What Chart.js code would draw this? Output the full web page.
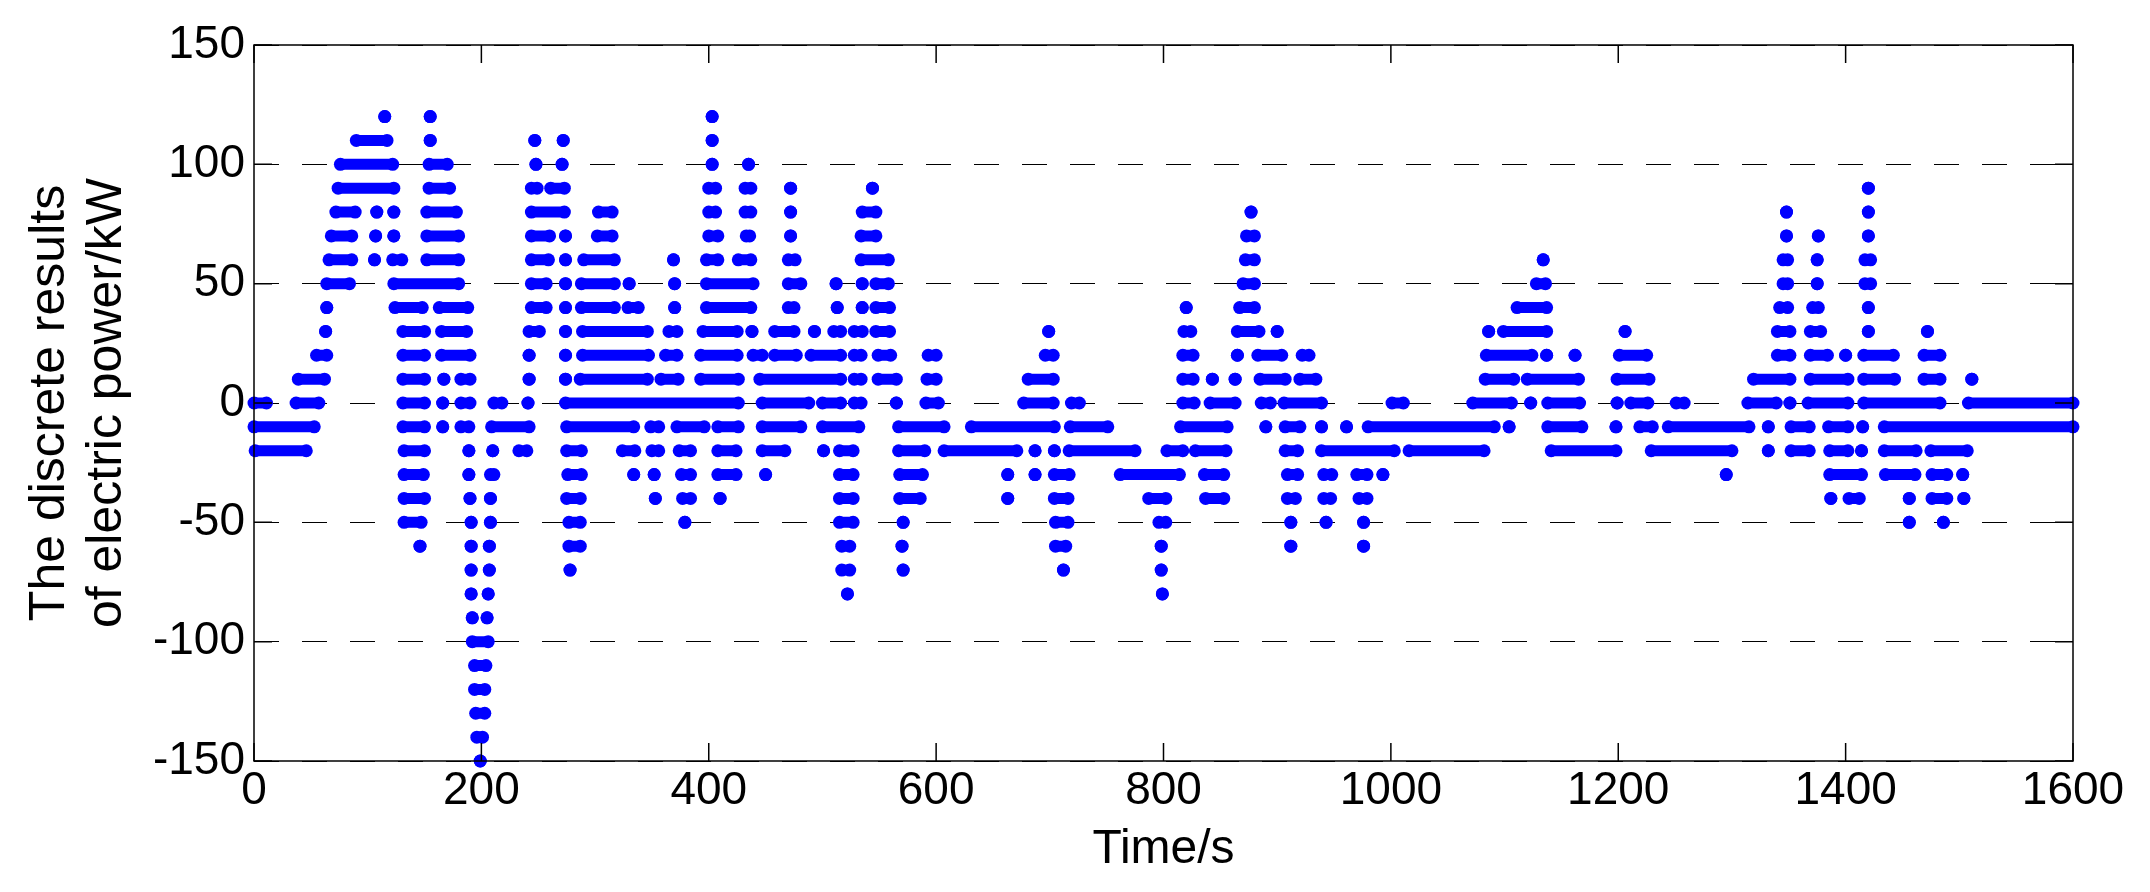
<!DOCTYPE html>
<html>
<head>
    <title>Discrete electric power</title>
    <script src="https://cdn.jsdelivr.net/npm/chart.js"></script>
    <style>
        body { margin: 0; background: #fff; }
    </style>
</head>
<body>
    <canvas id="powerChart" width="2150" height="892"></canvas>

    <script>
        // power levels (kW) and, for each level, the time runs [start s, end s] where dots sit
        const levels = [120, 110, 100, 90, 80, 70, 60, 50, 40, 30, 20, 10, 0,
                        -10, -20, -30, -40, -50, -60, -70, -80, -90, -100, -110, -120, -130, -140, -150];

        const lvl120 = [[115,115],[155,155],[403,403]];
        const lvl110 = [[90,117],[155,155],[247,247],[272,272],[403,403]];
        const lvl100 = [[76,122],[154,170],[248,248],[271,271],[403,403],[435,435]];
        const lvl90 = [[74,123],[154,172],[244,249],[261,273],[400,406],[432,437],[472,472],[544,544],[1420,1420]];
        const lvl80 = [[72,89],[108,108],[123,123],[152,178],[244,273],[303,315],[400,406],[432,437],[472,472],
                       [535,547],[877,877],[1348,1348],[1420,1420]];
        const lvl70 = [[68,86],[107,107],[123,123],[152,180],[244,260],[274,274],[302,315],[400,408],[433,436],
                       [472,472],[534,547],[873,880],[1348,1348],[1376,1376],[1420,1420]];
        const lvl60 = [[66,86],[106,106],[122,130],[152,180],[244,259],[274,274],[290,317],[369,369],[398,408],
                       [426,437],[470,476],[534,558],[872,880],[1134,1134],[1345,1349],[1375,1375],[1417,1422]];
        const lvl50 = [[64,84],[123,180],[244,257],[274,274],[288,317],[330,330],[370,370],[398,439],[470,481],
                       [512,512],[535,535],[547,558],[870,880],[1128,1136],[1345,1349],[1375,1375],[1417,1422]];
        const lvl40 = [[64,64],[124,148],[163,188],[244,257],[274,274],[288,317],[329,338],[370,370],[398,437],
                       [470,475],[513,513],[535,535],[547,559],[820,820],[867,880],[1111,1137],[1342,1349],
                       [1371,1376],[1420,1420]];
        const lvl30 = [[63,63],[131,150],[165,187],[242,251],[274,274],[289,346],[365,372],[395,425],[438,438],
                       [458,475],[493,493],[510,516],[528,535],[547,559],[699,699],[818,824],[865,884],[900,900],
                       [1086,1086],[1099,1137],[1206,1206],[1340,1351],[1369,1378],[1420,1420],[1472,1472]];
        const lvl20 = [[55,64],[131,150],[165,190],[242,242],[274,274],[289,347],[362,372],[393,425],[439,447],
                       [458,477],[490,516],[528,534],[549,560],[593,600],[696,703],[817,826],[865,865],[883,904],
                       [922,928],[1084,1124],[1137,1137],[1162,1162],[1201,1225],[1340,1351],[1369,1384],
                       [1400,1400],[1416,1442],[1469,1483]];
        const lvl10 = [[39,62],[131,150],[167,167],[182,190],[242,242],[274,274],[287,346],[358,373],[393,426],
                       [445,516],[528,534],[549,565],[592,600],[681,703],[817,826],[843,843],[863,863],[885,907],
                       [920,934],[1083,1108],[1120,1165],[1199,1227],[1319,1351],[1369,1402],[1416,1443],
                       [1469,1483],[1511,1511]];
        const lvl0 = [[0,11],[37,57],[131,150],[166,166],[182,190],[211,218],[241,241],[274,426],[447,488],
                      [500,516],[528,534],[565,565],[591,602],[677,703],[719,726],[817,827],[841,863],[886,894],
                      [906,939],[1001,1011],[1072,1106],[1123,1123],[1138,1166],[1199,1199],[1211,1226],
                      [1251,1258],[1314,1339],[1351,1351],[1367,1402],[1416,1483],[1508,1600]];
        const lvlNeg10 = [[0,53],[131,150],[166,166],[182,189],[209,242],[275,334],[349,356],[372,396],[408,426],
                          [447,481],[500,532],[567,607],[631,704],[718,751],[815,856],[890,890],[907,920],
                          [939,939],[961,961],[980,1091],[1104,1104],[1138,1168],[1198,1198],[1219,1230],
                          [1244,1315],[1332,1332],[1352,1368],[1385,1402],[1415,1415],[1434,1600]];
        const lvlNeg20 = [[1,46],[132,150],[189,189],[210,210],[233,240],[275,288],[324,335],[350,356],[374,384],
                          [408,424],[447,467],[501,501],[515,527],[567,590],[607,671],[687,687],[704,704],
                          [717,775],[803,817],[828,855],[907,918],[939,1003],[1016,1082],[1141,1198],[1229,1300],
                          [1332,1332],[1352,1368],[1386,1402],[1414,1414],[1434,1462],[1475,1507]];
        const lvlNeg30 = [[132,149],[189,189],[208,211],[276,288],[334,334],[352,352],[376,384],[408,424],
                          [450,450],[515,527],[568,588],[663,663],[687,687],[704,717],[762,814],[836,853],
                          [909,918],[941,948],[970,979],[993,993],[1295,1295],[1386,1414],[1435,1461],
                          [1476,1489],[1503,1503]];
        const lvlNeg40 = [[132,150],[190,190],[208,208],[275,287],[353,353],[377,384],[410,410],[515,527],
                          [568,586],[663,663],[704,716],[787,802],[837,853],[909,916],[941,947],[972,979],
                          [1387,1387],[1403,1412],[1456,1456],[1476,1489],[1504,1504]];
        const lvlNeg50 = [[132,147],[191,191],[208,208],[277,287],[379,379],[515,527],[571,571],[705,716],
                          [796,802],[912,912],[943,943],[976,976],[1456,1456],[1486,1486]];
        const lvlNeg60 = [[146,146],[191,191],[207,207],[277,287],[517,524],[570,570],[705,714],[798,798],
                          [912,912],[976,976]];
        const lvlNeg70 = [[191,191],[207,207],[278,278],[517,524],[571,571],[712,712],[798,798]];
        const lvlNeg80 = [[191,191],[206,206],[522,522],[799,799]];
        const lvlNeg90 = [[192,192],[205,205]];
        const lvlNeg100 = [[192,206]];
        const lvlNeg110 = [[194,204]];
        const lvlNeg120 = [[194,203]];
        const lvlNeg130 = [[195,203]];
        const lvlNeg140 = [[196,201]];
        const lvlNeg150 = [[199,199]];

        const levelRuns = [lvl120, lvl110, lvl100, lvl90, lvl80, lvl70, lvl60, lvl50, lvl40, lvl30, lvl20, lvl10,
                           lvl0, lvlNeg10, lvlNeg20, lvlNeg30, lvlNeg40, lvlNeg50, lvlNeg60, lvlNeg70, lvlNeg80,
                           lvlNeg90, lvlNeg100, lvlNeg110, lvlNeg120, lvlNeg130, lvlNeg140, lvlNeg150];

        const xTicks = [0, 200, 400, 600, 800, 1000, 1200, 1400, 1600];
        const yTicks = [-150, -100, -50, 0, 50, 100, 150];

        // one dataset per level; a null point breaks the line between runs
        const datasets = levels.map((lvl, i) => {
            const pts = [];
            levelRuns[i].forEach(([s, e]) => {
                pts.push({x: s, y: lvl}, {x: e, y: lvl}, {x: e, y: null});
            });
            return {
                data: pts,
                borderColor: '#0000ff',
                backgroundColor: '#0000ff',
                borderWidth: 11,
                borderCapStyle: 'round',
                pointRadius: 6.5,
                pointHoverRadius: 6.5,
                pointBorderWidth: 0,
                spanGaps: false,
                clip: false
            };
        });

        // MATLAB style box with inward ticks on all four sides
        const boxTicks = {
            id: 'boxTicks',
            afterDraw(chart) {
                const {ctx, chartArea: a, scales: {x, y}} = chart;
                const len = 18;
                ctx.save();
                ctx.strokeStyle = '#000';
                ctx.lineWidth = 1.5;
                ctx.strokeRect(a.left, a.top, a.right - a.left, a.bottom - a.top);
                ctx.beginPath();
                xTicks.forEach(v => {
                    const px = x.getPixelForValue(v);
                    ctx.moveTo(px, a.bottom); ctx.lineTo(px, a.bottom - len);
                    ctx.moveTo(px, a.top); ctx.lineTo(px, a.top + len);
                });
                yTicks.forEach(v => {
                    const py = y.getPixelForValue(v);
                    ctx.moveTo(a.left, py); ctx.lineTo(a.left + len, py);
                    ctx.moveTo(a.right, py); ctx.lineTo(a.right - len, py);
                });
                ctx.stroke();
                ctx.restore();
            }
        };

        new Chart(document.getElementById('powerChart'), {
            type: 'line',
            data: { datasets },
            plugins: [boxTicks],
            options: {
                responsive: false,
                animation: false,
                devicePixelRatio: 1,
                events: [],
                layout: { padding: { top: 45, right: 77, bottom: 0, left: 0 } },
                plugins: { legend: { display: false }, tooltip: { enabled: false } },
                scales: {
                    x: {
                        type: 'linear',
                        min: 0,
                        max: 1600,
                        afterFit: s => { s.height = 131; },
                        afterBuildTicks: s => { s.ticks = xTicks.map(v => ({value: v})); },
                        grid: { display: false, drawTicks: false },
                        border: { display: false },
                        ticks: {
                            padding: 3,
                            color: '#000',
                            maxRotation: 0,
                            font: { family: 'Liberation Sans, Arial', size: 46 },
                            callback: v => String(v)
                        },
                        title: {
                            display: true,
                            text: 'Time/s',
                            color: '#000',
                            padding: { top: 0, bottom: 15 },
                            font: { family: 'Liberation Sans, Arial', size: 48, lineHeight: 1.14 }
                        }
                    },
                    y: {
                        min: -150,
                        max: 150,
                        afterFit: s => { s.width = 254; },
                        afterBuildTicks: s => { s.ticks = yTicks.map(v => ({value: v})); },
                        grid: { color: '#000', lineWidth: 1, drawTicks: false },
                        border: { display: false, dash: [25, 23] },
                        ticks: {
                            padding: 9,
                            color: '#000',
                            font: { family: 'Liberation Sans, Arial', size: 46 },
                            callback: v => String(v)
                        },
                        title: {
                            display: true,
                            text: ['The discrete results', 'of electric power/kW'],
                            color: '#000',
                            padding: { top: 22, bottom: 0 },
                            font: { family: 'Liberation Sans, Arial', size: 50, lineHeight: 1.14 }
                        }
                    }
                }
            }
        });
    </script>
</body>
</html>
